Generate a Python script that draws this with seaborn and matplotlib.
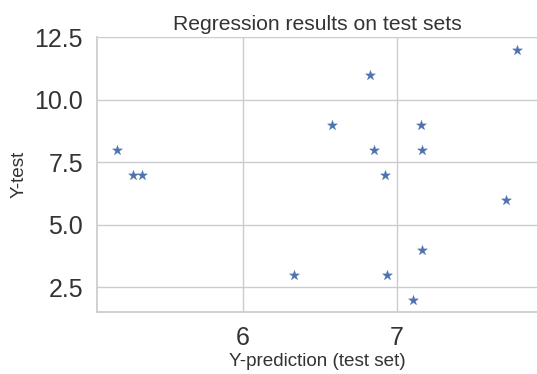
import matplotlib
matplotlib.use("Agg")
import matplotlib.pyplot as plt
import seaborn as sns
import pandas as pd

y_pred = [5.183, 5.290, 5.346, 6.329, 6.581, 6.824, 6.848, 6.921, 6.938,
          7.103, 7.157, 7.164, 7.164, 7.710, 7.779]
y_test = [8, 7, 7, 3, 9, 11, 8, 7, 3, 2, 9, 8, 4, 6, 12]

title = "Regression results on test sets"
xlabel = "Y-prediction (test set)"
ylabel = "Y-test"

sns.set_theme(style="whitegrid")
plt.rcParams['font.family'] = ['Liberation Sans', 'DejaVu Sans']

df = pd.DataFrame({"pred": y_pred, "test": y_test})

fig, ax = plt.subplots(figsize=(5.37, 3.74), dpi=100)
fig.subplots_adjust(left=0.1806, right=1.0, top=0.9003, bottom=0.1658)

sns.scatterplot(data=df, x="pred", y="test", marker="*", s=55,
                color="#4c72b0", edgecolor="#4c72b0", linewidth=0.3, ax=ax)

ax.set_xticks([6, 7])
ax.set_yticks([2.5, 5.0, 7.5, 10.0, 12.5])
ax.set_yticklabels(["2.5", "5.0", "7.5", "10.0", "12.5"])
ax.tick_params(axis="both", labelsize=18, colors="#333333", pad=4)
ax.set_title(title, fontsize=15.2, color="#333333", pad=5)
ax.set_xlabel(xlabel, fontsize=13.6, color="#333333", labelpad=2)
ax.set_ylabel(ylabel, fontsize=13.6, color="#333333", labelpad=5)
sns.despine(ax=ax, top=True, right=True)
for s in ["left", "bottom"]:
    ax.spines[s].set_color("#cccccc")

fig.savefig("out.png", dpi=100)
